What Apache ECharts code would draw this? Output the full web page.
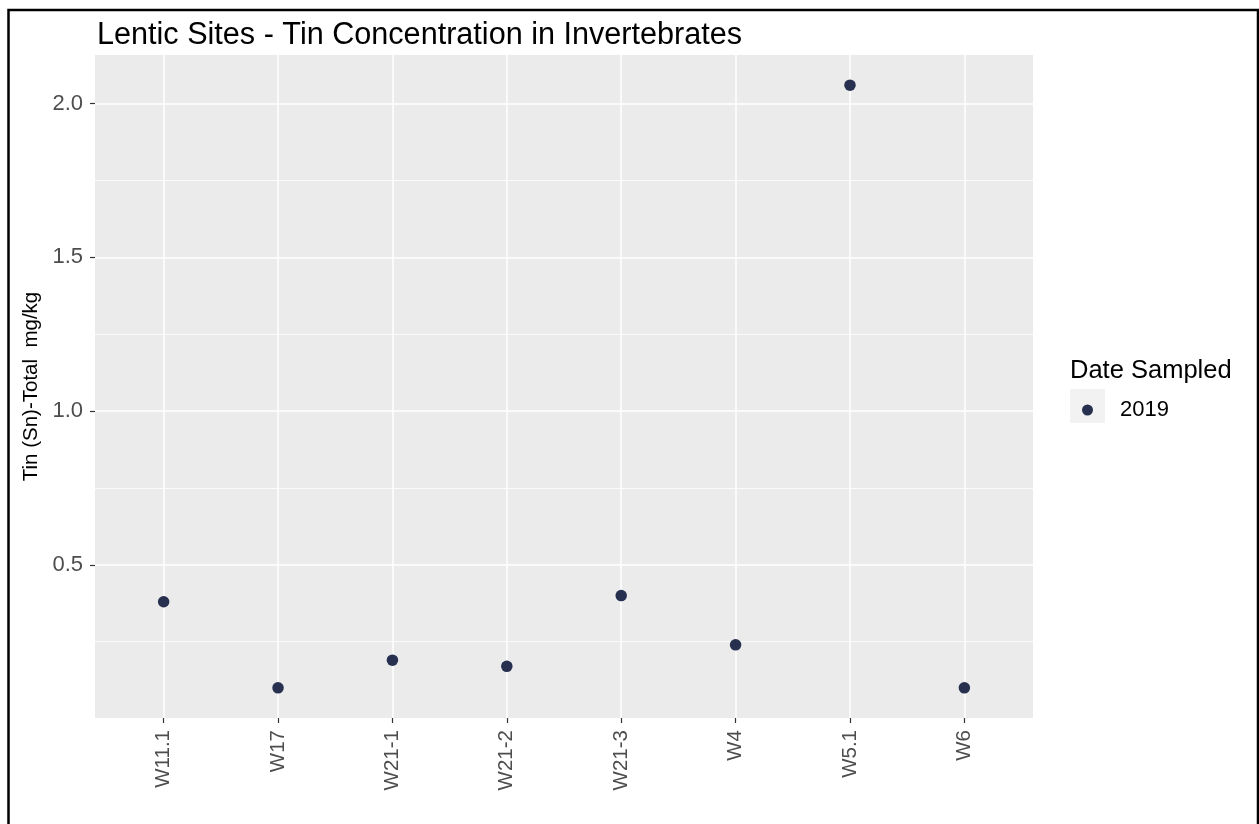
<!DOCTYPE html>
<html>
<head>
<meta charset="utf-8">
<script src="https://cdn.jsdelivr.net/npm/echarts@6/dist/echarts.min.js"></script>
<style>
  html, body { margin: 0; padding: 0; background: #ffffff; }
  #chart { width: 1259px; height: 824px; }
</style>
</head>
<body>
<div id="chart"></div>
<script>
// ---- data ----
const categories = ['W11.1', 'W17', 'W21-1', 'W21-2', 'W21-3', 'W4', 'W5.1', 'W6'];
const values2019 = [0.38, 0.10, 0.19, 0.17, 0.40, 0.24, 2.06, 0.10];
const seriesName = '2019';
const yTickLabels = [0.5, 1.0, 1.5, 2.0];
const yMinorGrid = [0.25, 0.75, 1.25, 1.75];
const yMin = 0.002, yMax = 2.158;

const pointColor = '#27314f';
const fontFam = '"Liberation Sans", Arial, sans-serif';

const catIdx = categories.map((c, i) => i);
const points = values2019.map((v, i) => [i, v]);

const gridLines = [];
yMinorGrid.forEach(v => gridLines.push({ yAxis: v, lineStyle: { color: '#ffffff', width: 0.8, type: 'solid' } }));
yTickLabels.forEach(v => gridLines.push({ yAxis: v, lineStyle: { color: '#ffffff', width: 1.5, type: 'solid' } }));
catIdx.forEach(i => gridLines.push({ xAxis: i, lineStyle: { color: '#ffffff', width: 1.5, type: 'solid' } }));

const chart = echarts.init(document.getElementById('chart'), null, { renderer: 'canvas' });
chart.setOption({
  animation: false,
  backgroundColor: '#ffffff',
  title: [
    {
      text: 'Lentic Sites - Tin Concentration in Invertebrates',
      left: 92, top: 15,
      textStyle: { fontFamily: fontFam, fontSize: 30.6, fontWeight: 'normal', color: '#000000' }
    },
    {
      text: 'Date Sampled',
      left: 1065, top: 353,
      textStyle: { fontFamily: fontFam, fontSize: 25.5, fontWeight: 'normal', color: '#000000' }
    }
  ],
  legend: {
    data: [seriesName],
    left: 1082, top: 399,
    padding: 0,
    icon: 'circle',
    itemWidth: 11, itemHeight: 11,
    textStyle: { fontFamily: fontFam, fontSize: 22, color: '#000000', padding: [0, 0, 0, 22] },
    selectedMode: false
  },
  graphic: [
    {
      type: 'rect', silent: true, z: -1,
      shape: { x: 1070, y: 389, width: 35, height: 34 },
      style: { fill: '#f2f2f2' }
    },
    {
      type: 'rect', silent: true, z: 100,
      shape: { x: 8.5, y: 10, width: 1249.5, height: 900 },
      style: { fill: null, stroke: '#000000', lineWidth: 2.5 }
    }
  ],
  grid: {
    left: 95, right: 226, top: 55, bottom: 106,
    show: true, backgroundColor: '#ebebeb', borderWidth: 0
  },
  xAxis: {
    type: 'value',
    min: -0.6, max: 7.6,
    axisLine: { show: false, onZero: false },
    splitLine: { show: false },
    axisTick: { show: true, customValues: catIdx, length: 5, lineStyle: { color: '#333333', width: 1.2 } },
    axisLabel: {
      customValues: catIdx,
      rotate: 90,
      margin: 12,
      formatter: v => categories[Math.round(v)],
      fontFamily: fontFam, fontSize: 20.5, color: '#4d4d4d'
    }
  },
  yAxis: {
    type: 'value',
    min: yMin, max: yMax,
    name: 'Tin (Sn)-Total  mg/kg',
    nameLocation: 'middle',
    nameGap: 48,
    nameTextStyle: { fontFamily: fontFam, fontSize: 20.5, color: '#000000' },
    axisLine: { show: false, onZero: false },
    splitLine: { show: false },
    axisTick: { show: true, customValues: yTickLabels, length: 5, lineStyle: { color: '#333333', width: 1.2 } },
    axisLabel: {
      customValues: yTickLabels,
      margin: 12,
      formatter: v => Number(v).toFixed(1),
      fontFamily: fontFam, fontSize: 22, color: '#4d4d4d'
    }
  },
  series: [
    {
      name: 'gridlines',
      type: 'scatter',
      data: [],
      z: 1,
      silent: true,
      markLine: {
        silent: true,
        symbol: ['none', 'none'],
        label: { show: false },
        emphasis: { disabled: true },
        animation: false,
        data: gridLines
      }
    },
    {
      name: seriesName,
      type: 'scatter',
      z: 5,
      symbol: 'circle',
      symbolSize: 11.5,
      itemStyle: { color: pointColor, opacity: 1 },
      data: points
    }
  ]
});
</script>
</body>
</html>
